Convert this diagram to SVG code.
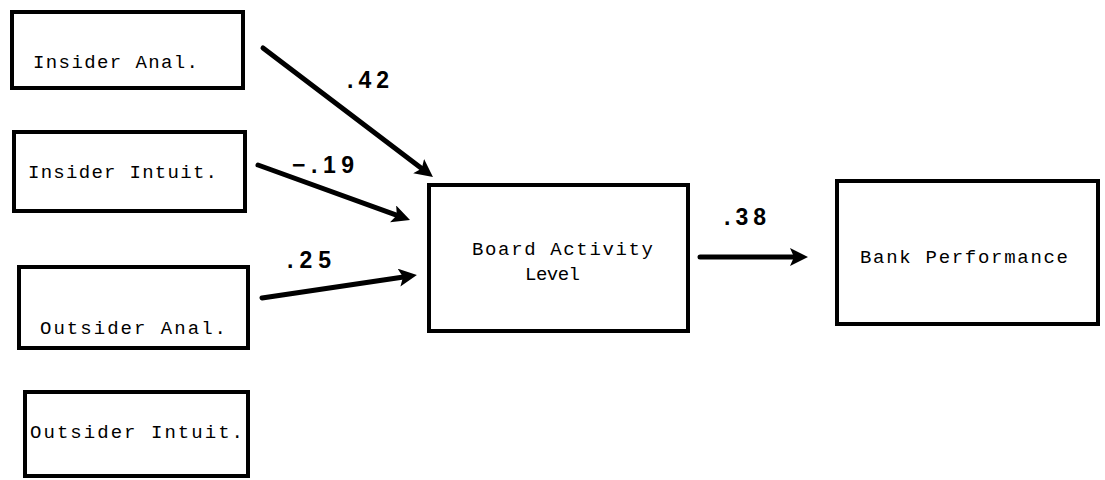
<svg xmlns="http://www.w3.org/2000/svg" width="1105" height="480" viewBox="0 0 1105 480">
  <style>
    .box { fill: #fff; stroke: #000; stroke-width: 4; }
    .lbl { font-family: "Liberation Mono", "DejaVu Sans Mono", monospace; font-size: 19px; fill: #000; }
    .coef { font-family: "Liberation Sans", Arial, sans-serif; font-size: 23px; font-weight: bold; fill: #000; }
    .edge { fill: none; stroke: #000; stroke-width: 5; stroke-linecap: round; }
  </style>
  <defs>
    <marker id="head" viewBox="0 0 18 18" refX="8" refY="9" markerWidth="18" markerHeight="18" markerUnits="userSpaceOnUse" orient="auto">
      <path d="M0,0 L18,9 L0,18 L4,9 Z" fill="#000"/>
    </marker>
  </defs>
  <rect width="1105" height="480" fill="#fff"/>

  <g id="insider-anal">
    <rect class="box" x="12" y="12" width="231" height="76"/>
    <text class="lbl" x="33" y="68" textLength="165" lengthAdjust="spacing">Insider Anal.</text>
  </g>
  <g id="insider-intuit">
    <rect class="box" x="14" y="132" width="231" height="79"/>
    <text class="lbl" x="28" y="178" textLength="189" lengthAdjust="spacing">Insider Intuit.</text>
  </g>
  <g id="outsider-anal">
    <rect class="box" x="19" y="267" width="229" height="81"/>
    <text class="lbl" x="40" y="334" textLength="186" lengthAdjust="spacing">Outsider Anal.</text>
  </g>
  <g id="outsider-intuit">
    <rect class="box" x="25" y="392" width="223" height="84"/>
    <text class="lbl" x="30" y="438" textLength="213" lengthAdjust="spacing">Outsider Intuit.</text>
  </g>
  <g id="board-activity">
    <rect class="box" x="429" y="185" width="259" height="146"/>
    <text class="lbl" x="472" y="255" textLength="181" lengthAdjust="spacing">Board Activity</text>
    <text class="lbl" x="525" y="280" textLength="55" lengthAdjust="spacing">Level</text>
  </g>
  <g id="bank-performance">
    <rect class="box" x="837" y="181" width="261" height="143"/>
    <text class="lbl" x="860" y="263" textLength="208" lengthAdjust="spacing">Bank Performance</text>
  </g>

  <g id="connectors">
    <line class="edge" x1="263" y1="48" x2="425" y2="171" marker-end="url(#head)"/>
    <line class="edge" x1="258" y1="165" x2="400.6" y2="216.6" marker-end="url(#head)"/>
    <line class="edge" x1="262" y1="298" x2="407" y2="276.5" marker-end="url(#head)"/>
    <line class="edge" x1="700" y1="257" x2="798" y2="257" marker-end="url(#head)"/>
    <text class="coef" x="347" y="88" textLength="42" lengthAdjust="spacing">.42</text>
    <text class="coef" x="292" y="173" textLength="62" lengthAdjust="spacing">−.19</text>
    <text class="coef" x="287" y="268" textLength="44" lengthAdjust="spacing">.25</text>
    <text class="coef" x="724" y="225" textLength="42" lengthAdjust="spacing">.38</text>
  </g>
</svg>
